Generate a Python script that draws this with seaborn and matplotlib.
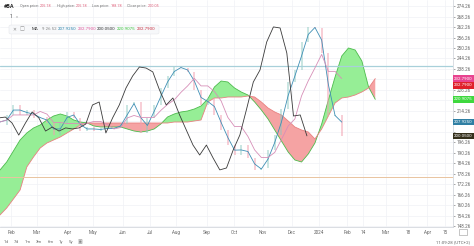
import numpy as np
import pandas as pd
import matplotlib
matplotlib.use("Agg")
import matplotlib.pyplot as plt
import matplotlib.transforms as mtrans
import seaborn as sns

# ---------------- data (weekly samples, 5 bars apart) ----------------
close = [206.3, 212.0, 217.7, 212.0, 214.8, 210.3, 210.8, 207.4, 200.5, 207.4,
         213.7, 210.3, 202.8, 205.1, 202.8, 204.6, 204.0, 204.6, 206.8, 217.7,
         219.4, 201.7, 210.3, 217.7, 227.4, 234.3, 239.4, 238.8, 236.6, 226.3,
         217.7, 221.7, 212.0, 203.4, 194.8, 189.1, 194.8, 187.4, 180.6, 181.7,
         192.0, 200.6, 215.4, 230.8, 237.7, 253.7, 262.3, 261.7, 247.4, 211.4,
         212.0, 200.05]
tenkan = [208.0, 209.1, 214.8, 214.8, 213.4, 212.5, 210.5, 209.1, 204.0, 204.0,
          210.5, 212.0, 206.5, 204.0, 204.0, 203.7, 204.3, 204.3, 205.7, 212.2,
          218.5, 210.5, 206.0, 214.0, 222.5, 230.8, 236.8, 239.1, 237.7, 231.4,
          222.0, 219.7, 216.8, 207.7, 199.1, 191.9, 192.0, 191.1, 184.0, 181.1,
          186.8, 196.3, 208.0, 223.1, 234.2, 245.7, 258.0, 262.0, 254.8, 229.4,
          211.7, 207.925]
kijun = [208.0, 209.1, 212.0, 212.0, 212.0, 212.0, 214.0, 212.5, 207.7, 207.7,
         207.1, 207.1, 207.1, 207.1, 208.3, 208.3, 206.6, 204.0, 204.8, 210.3,
         211.7, 210.6, 210.6, 210.6, 214.6, 218.0, 220.6, 224.9, 228.6, 232.9,
         228.6, 228.6, 225.4, 220.0, 210.6, 205.4, 205.4, 199.7, 192.0, 187.7,
         187.7, 190.6, 198.0, 205.7, 209.7, 222.9, 231.5, 238.9, 246.6, 236.9,
         236.9, 232.79]
span_a = [180.55, 185.12, 191.40, 197.69, 201.69, 204.55, 206.26, 209.12, 211.40, 212.55,
          211.40, 209.12, 207.97, 207.40, 205.69, 205.12, 205.12, 205.12, 205.12, 203.97,
          202.83, 202.26, 202.83, 203.97, 206.83, 210.83, 212.55, 213.69, 214.26, 215.40,
          217.12, 221.12, 227.97, 231.40, 230.83, 227.40, 225.12, 223.40, 219.40, 214.83,
          209.69, 203.40, 197.12, 190.83, 186.26, 185.12, 189.69, 195.97, 206.83, 220.55,
          233.69, 245.69, 250.26, 249.12, 242.83, 227.97, 220.9075]
span_b = [154.83, 158.83, 163.97, 169.12, 182.26, 187.97, 193.12, 195.97, 197.69, 199.40,
          201.69, 203.97, 206.26, 207.40, 207.40, 207.40, 207.40, 207.40, 207.40, 207.40,
          207.40, 207.40, 207.40, 207.40, 207.40, 207.40, 207.97, 207.97, 207.97, 208.55,
          209.12, 219.40, 221.69, 221.69, 222.26, 222.26, 222.26, 222.83, 222.26, 219.40,
          215.97, 213.69, 211.97, 208.55, 205.12, 203.40, 202.26, 198.26, 203.97, 211.40,
          218.83, 221.69, 222.26, 223.40, 225.12, 227.40, 232.79]
resistance = 240.0
support = 176.5

x_labels = ["Feb", "Mar", "Apr", "May", "Jun", "Jul", "Aug", "Sep", "Oct", "Nov",
            "Dec", "2024", "Feb", "14", "Mar", "18", "Apr", "15"]
x_label_bars = [8.2, 27.6, 50.7, 69.4, 91.8, 112, 131.3, 154.5, 174.6, 196.3,
                217.9, 238, 259, 271, 288, 304.5, 318.7, 332]
y_ticks = np.arange(148.26, 274.3, 6.0)
hidden_ticks = [202.26, 208.26, 220.26, 232.26]   # covered by price labels

header_names = ["Open price:", "High price:", "Low price:", "Close price:"]
header_values = ["205.18", "205.18", "198.78", "200.05"]

# ---------------- style ----------------
sns.set_theme(style="white")
plt.rcParams["font.family"] = ["Roboto", "DejaVu Sans"]

W, H = 474, 246
fig = plt.figure(figsize=(W / 100, H / 100), dpi=100)
ax = fig.add_axes([0, 1 - 227 / H, 453 / W, 227 / H])

bars = np.arange(len(close)) * 5
cbars = np.arange(len(span_a)) * 5
closes = np.array(close)
opens = np.concatenate([[close[0]], closes[:-1]])

# grid
for xb in x_label_bars:
    ax.axvline(xb, color="#f0f2f6", lw=0.5, zorder=0)
for yt in y_ticks:
    ax.axhline(yt, color="#f0f2f6", lw=0.5, zorder=0)

# cloud
a = np.array(span_a)
b = np.array(span_b)
ax.fill_between(cbars, a, b, where=a >= b, interpolate=True, color="#96ee96", lw=0, zorder=1)
ax.fill_between(cbars, a, b, where=a < b, interpolate=True, color="#f5a3a3", lw=0, zorder=1)
sns.lineplot(x=cbars, y=a, ax=ax, color="#4cbb4c", lw=0.6, estimator=None, zorder=2)
sns.lineplot(x=cbars, y=b, ax=ax, color="#e88080", lw=0.6, estimator=None, zorder=2)

# candles (weekly bodies)
up = closes >= opens
ax.vlines(bars[up], opens[up], closes[up], colors="#8cc9c0", lw=1.2, alpha=0.55, zorder=2)
ax.vlines(bars[~up], opens[~up], closes[~up], colors="#f2a0b0", lw=1.2, alpha=0.6, zorder=2)

# horizontal levels
ax.axhline(resistance, color="#a8d0da", lw=0.9, zorder=2)
ax.axhline(support, color="#e9c4a0", lw=0.7, zorder=2)

# ichimoku lines
sns.lineplot(x=bars, y=tenkan, ax=ax, color="#3f8fb5", lw=0.6, estimator=None, zorder=3)
sns.lineplot(x=bars, y=kijun, ax=ax, color="#d78fb8", lw=0.6, estimator=None, zorder=3)
sns.lineplot(x=bars - 26, y=close, ax=ax, color="#3a3a3a", lw=0.6, estimator=None, zorder=3)

ax.set_xlim(0, 338)
ax.set_ylim(147.97, 277.69)
ax.set_xlabel("")
ax.set_ylabel("")

ax.yaxis.tick_right()
ax.set_yticks(y_ticks)
ax.set_yticklabels(["" if any(abs(v - h) < 0.01 for h in hidden_ticks) else f"{v:.2f}"
                    for v in y_ticks])
ax.tick_params(axis="y", labelsize=3.3, colors="#666666", length=1.5, width=0.4, pad=1)
ax.set_xticks(x_label_bars)
ax.set_xticklabels(x_labels)
ax.tick_params(axis="x", labelsize=3.3, colors="#666666", length=0, pad=2)
for s in ["top", "left"]:
    ax.spines[s].set_visible(False)
for s in ["right", "bottom"]:
    ax.spines[s].set_color("#d5d8de")
    ax.spines[s].set_linewidth(0.6)

# price labels on the right scale
tr = mtrans.blended_transform_factory(ax.transAxes, ax.transData)
def plabel(val, txt, fc, tc="white"):
    ax.text(1.002, val, txt, transform=tr, ha="left", va="center", fontsize=3.2,
            color=tc, clip_on=False, zorder=10,
            bbox=dict(boxstyle="square,pad=0.3", fc=fc, ec="none"))
plabel(232.79, "232.7900", "#e8438f")
plabel(229.0, "232.7900", "#e0202a")
plabel(220.9075, "220.9075", "#3ed83e")
plabel(207.925, "207.9250", "#2f7fa3")
plabel(200.05, "200.0500", "#35301c")

# header texts
def ft(x, y, s, **kw):
    return fig.text(x / W, 1 - y / H, s, va="center", **kw)

renderer = fig.canvas.get_renderer()
ft(4, 6, "#BA", fontsize=4, color="#222222", fontweight="bold")
hx = 20
for name, val in zip(header_names, header_values):
    t = ft(hx, 6, name, fontsize=2.7, color="#777777")
    x1 = t.get_window_extent(renderer).x1
    t2 = ft(x1 + 1.2, 6, val, fontsize=2.7, color="#e0607a")
    hx = t2.get_window_extent(renderer).x1 + 5

ft(10, 16, "1", fontsize=3.5, color="#444444")
ft(16, 16.5, "v", fontsize=3, color="#999999")

fig.patches.append(matplotlib.patches.FancyBboxPatch(
    (9 / W, 1 - 34 / H), 150 / W, 9 / H, boxstyle="round,pad=0,rounding_size=0.005",
    transform=fig.transFigure, fc="#f7f8fa", ec="#e6e8ec", lw=0.4, zorder=0))
ft(12, 29, "✕", fontsize=3.3, color="#888888")
ft(20, 29, "□", fontsize=3.6, color="#888888")
ft(32, 29, "MA", fontsize=3.2, color="#333333")
ft(42, 29, "9 26 52", fontsize=3.2, color="#888888")
ft(58, 29, "207.9250", fontsize=3.2, color="#2f86ad")
ft(78, 29, "232.7900", fontsize=3.2, color="#e05a9c")
ft(97, 29, "200.0500", fontsize=3.2, color="#333333")
ft(117, 29, "220.9075", fontsize=3.2, color="#3cc43c")
ft(137, 29, "232.7900", fontsize=3.2, color="#c83040")

# bottom toolbar
for xx, s in zip([4, 14, 25, 36, 48, 59, 69], ["1d", "7d", "1m", "3m", "6m", "1y", "5y"]):
    ft(xx, 242, s, fontsize=3.2, color="#666666")
ft(78, 242, "▣", fontsize=3.6, color="#888888")
fig.text(470 / W, 1 - 242 / H, "11:09:28 (UTC+2)", ha="right", va="center",
         fontsize=3.2, color="#666666")
fig.patches.append(matplotlib.patches.Rectangle(
    (459 / W, 1 - 235 / H), 8 / W, 6 / H, transform=fig.transFigure,
    fc="white", ec="#999999", lw=0.4))

fig.savefig("out.png", dpi=100)
